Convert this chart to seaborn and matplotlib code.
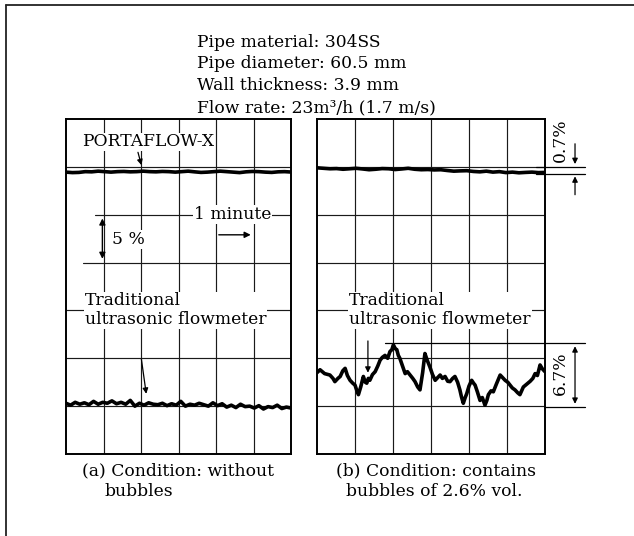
import numpy as np
import pandas as pd
import matplotlib
matplotlib.use("Agg")
import matplotlib.pyplot as plt
import seaborn as sns

sns.set_theme(style="white")
plt.rcParams['font.family'] = ['DejaVu Serif']
plt.rcParams['text.color'] = 'black'

# ---------------- data ----------------
title_lines = ["Pipe material: 304SS", "Pipe diameter: 60.5 mm",
               "Wall thickness: 3.9 mm", "Flow rate: 23m³/h (1.7 m/s)"]

# (a) without bubbles, percent of full scale, sampled evenly over 6 minutes
porta_a = [29.45, 29.40, 29.42, 29.50, 29.48, 29.55, 29.50, 29.45, 29.50, 29.52,
           29.48, 29.50, 29.55, 29.50, 29.48, 29.52, 29.50, 29.45, 29.50, 29.55,
           29.48, 29.42, 29.45, 29.50, 29.55, 29.50, 29.45, 29.40, 29.48, 29.52,
           29.50, 29.45, 29.42, 29.48, 29.50, 29.46]
trad_a = [5.3, 5.1, 5.4, 5.2, 5.35, 5.15, 5.5, 5.2, 5.4, 5.3, 5.55, 5.25, 5.4,
          5.2, 5.6, 5.0, 5.3, 5.1, 5.35, 5.2, 5.15, 5.3, 5.05, 5.25, 5.1, 5.5,
          5.0, 5.2, 5.1, 5.3, 5.15, 5.0, 5.35, 5.05, 5.25, 4.9, 5.1, 4.85, 5.2,
          4.95, 5.0, 4.8, 5.05, 4.7, 4.95, 4.85, 5.1, 4.75, 4.9, 4.8]

# (b) with bubbles
porta_b = [29.90, 29.85, 29.80, 29.82, 29.75, 29.80, 29.85, 29.78, 29.70, 29.75,
           29.82, 29.80, 29.72, 29.78, 29.85, 29.75, 29.70, 29.72, 29.68, 29.70,
           29.62, 29.55, 29.58, 29.60, 29.52, 29.48, 29.55, 29.45, 29.50, 29.40,
           29.45, 29.38, 29.42, 29.45, 29.40, 29.42]
trad_b_t = [0.0, 0.08, 0.2, 0.34, 0.42, 0.47, 0.55, 0.61, 0.68, 0.74, 0.8, 0.87,
            0.94, 1.0, 1.05, 1.09, 1.15, 1.22, 1.27, 1.31, 1.35, 1.39, 1.46, 1.53,
            1.6, 1.66, 1.72, 1.79, 1.86, 1.92, 1.97, 2.01, 2.06, 2.10, 2.14, 2.18,
            2.25, 2.32, 2.38, 2.45, 2.52, 2.58, 2.65, 2.71, 2.78, 2.84, 2.9, 2.97,
            3.04, 3.11, 3.18, 3.24, 3.3, 3.37, 3.44, 3.50, 3.57, 3.63, 3.7, 3.76,
            3.8, 3.85, 3.9, 3.94, 4.0, 4.07, 4.12, 4.16, 4.22, 4.29, 4.35, 4.42,
            4.47, 4.51, 4.58, 4.64, 4.72, 4.82, 4.88, 4.95, 5.02, 5.08, 5.14, 5.21,
            5.28, 5.34, 5.43, 5.52, 5.61, 5.68, 5.74, 5.8, 5.87, 5.93, 6.0]
trad_b = [8.5, 8.8, 8.4, 8.25, 7.9, 7.56, 7.9, 8.1, 8.7, 8.95, 8.2, 7.7,
          7.4, 7.2, 6.6, 6.2, 7.0, 8.1, 7.5, 7.4, 7.9, 7.7, 8.3, 8.6,
          9.2, 9.8, 10.1, 10.3, 10.0, 10.7, 10.9, 11.4, 11.0, 10.9, 10.3, 10.0,
          9.2, 8.4, 8.6, 8.25, 7.9, 7.56, 7.0, 6.7, 8.5, 10.5, 9.8, 9.1,
          8.3, 7.7, 8.0, 8.25, 7.9, 8.1, 7.6, 7.56, 7.9, 8.1, 7.5, 6.7,
          6.0, 5.3, 5.9, 6.3, 7.1, 7.7, 7.4, 7.2, 6.5, 5.6, 5.9, 5.1,
          5.6, 6.2, 6.6, 6.5, 7.3, 8.25, 8.0, 7.7, 7.5, 7.2, 6.9, 6.7,
          6.4, 6.2, 7.0, 7.3, 7.6, 7.9, 8.4, 8.2, 9.3, 8.9, 8.6]

minutes = [0, 1, 2, 3, 4, 5, 6]
percents = [0, 5, 10, 15, 20, 25, 30, 35]

df_pa = pd.DataFrame({"t": np.linspace(0, 6, len(porta_a)), "v": porta_a})
df_ta = pd.DataFrame({"t": np.linspace(0, 6, len(trad_a)), "v": trad_a})
df_pb = pd.DataFrame({"t": np.linspace(0, 6, len(porta_b)), "v": porta_b})
df_tb = pd.DataFrame({"t": trad_b_t, "v": trad_b})

# ---------------- figure ----------------
W, H = 634, 536
fig = plt.figure(figsize=(W / 100, H / 100), dpi=100)
fig.patch.set_facecolor("white")

def fx(px):
    return px / W

def fy(py):
    return 1 - py / H

ax_a = fig.add_axes([fx(66), fy(454), fx(291) - fx(66), fy(119) - fy(454)])
ax_b = fig.add_axes([fx(317), fy(454), fx(545) - fx(317), fy(119) - fy(454)])

GRID = "#1a1a1a"
for ax in (ax_a, ax_b):
    ax.set_xlim(0, 6)
    ax.set_ylim(0, 35)
    ax.set_xticks([])
    ax.set_yticks([])
    ax.set_facecolor("none")
    for m in minutes[1:-1]:
        ax.axvline(m, color=GRID, lw=0.85, zorder=1)
    for s in ax.spines.values():
        s.set_color("black")
        s.set_linewidth(1.4)
        s.set_visible(True)

# horizontal grid: panel (a) has the 20 % and 25 % lines only partly drawn
for p in percents[1:-1]:
    if p in (20, 25):
        ax_a.axhline(p, xmin=0.78 / 6 if p == 25 else 0.45 / 6, color=GRID, lw=0.85, zorder=1)
    else:
        ax_a.axhline(p, color=GRID, lw=0.85, zorder=1)
    ax_b.axhline(p, color=GRID, lw=0.85, zorder=1)

TRACE = dict(color="black", linewidth=2.6, zorder=5)
sns.lineplot(data=df_pa, x="t", y="v", ax=ax_a, **TRACE)
sns.lineplot(data=df_ta, x="t", y="v", ax=ax_a, **TRACE)
sns.lineplot(data=df_pb, x="t", y="v", ax=ax_b, **TRACE)
sns.lineplot(data=df_tb, x="t", y="v", ax=ax_b, **TRACE)
for ax in (ax_a, ax_b):
    ax.set_xlabel("")
    ax.set_ylabel("")

FS = 12.3
bb = dict(boxstyle="square,pad=0.05", fc="white", ec="none")

# title block
for i, line in enumerate(title_lines):
    fig.text(fx(197), fy(42 + 22 * i), line, fontsize=FS, ha="left", va="center")

# panel (a) annotations
ax_a.text(0.42, 32.6, "PORTAFLOW-X", fontsize=FS, ha="left", va="center", bbox=bb, zorder=6)
ax_a.annotate("", xy=(2.03, 29.9), xytext=(1.9, 31.8),
              arrowprops=dict(arrowstyle="-|>", color="black", lw=0.9, mutation_scale=8), zorder=6)
ax_a.text(4.45, 25.0, "1 minute", fontsize=FS, ha="center", va="center", bbox=bb, zorder=6)
ax_a.annotate("", xy=(5.0, 22.9), xytext=(4.0, 22.9),
              arrowprops=dict(arrowstyle="-|>", color="black", lw=1.0, mutation_scale=9), zorder=6)
ax_a.annotate("", xy=(0.97, 20.1), xytext=(0.97, 24.9),
              arrowprops=dict(arrowstyle="<|-|>", color="black", lw=1.0, mutation_scale=9), zorder=6)
ax_a.text(1.22, 22.4, "5 %", fontsize=FS, ha="left", va="center", bbox=bb, zorder=6)
ax_a.text(0.5, 15.0, "Traditional\nultrasonic flowmeter", fontsize=FS, ha="left",
          va="center", linespacing=1.15, bbox=bb, zorder=6)
ax_a.annotate("", xy=(2.15, 6.0), xytext=(2.0, 10.2),
              arrowprops=dict(arrowstyle="-|>", color="black", lw=0.9, mutation_scale=8), zorder=6)

# panel (b) annotations
ax_b.text(0.85, 15.0, "Traditional\nultrasonic flowmeter", fontsize=FS, ha="left",
          va="center", linespacing=1.15, bbox=bb, zorder=6)
ax_b.annotate("", xy=(1.34, 8.2), xytext=(1.34, 12.1),
              arrowprops=dict(arrowstyle="-|>", color="black", lw=0.9, mutation_scale=8), zorder=6)

# 0.7 % marker
ax_b.plot([5.75, 7.05], [30.0, 30.0], color="black", lw=0.9, clip_on=False, zorder=6)
ax_b.plot([5.75, 7.05], [29.3, 29.3], color="black", lw=0.9, clip_on=False, zorder=6)
ax_b.annotate("", xy=(6.79, 30.0), xytext=(6.79, 32.7),
              arrowprops=dict(arrowstyle="-|>", color="black", lw=0.9, mutation_scale=8),
              annotation_clip=False)
ax_b.annotate("", xy=(6.79, 29.3), xytext=(6.79, 26.8),
              arrowprops=dict(arrowstyle="-|>", color="black", lw=0.9, mutation_scale=8),
              annotation_clip=False)
ax_b.text(6.4, 32.8, "0.7%", fontsize=FS, rotation=90, ha="center", va="center")

# 6.7 % marker
ax_b.plot([1.8, 7.05], [11.6, 11.6], color="black", lw=0.9, clip_on=False, zorder=6)
ax_b.plot([6.0, 7.05], [4.9, 4.9], color="black", lw=0.9, clip_on=False, zorder=6)
ax_b.annotate("", xy=(6.79, 4.95), xytext=(6.79, 11.55),
              arrowprops=dict(arrowstyle="<|-|>", color="black", lw=0.9, mutation_scale=8),
              annotation_clip=False)
ax_b.text(6.4, 8.4, "6.7%", fontsize=FS, rotation=90, ha="center", va="center")

# captions
fig.text(fx(82), fy(471), "(a) Condition: without", fontsize=FS, ha="left", va="center")
fig.text(fx(104), fy(492), "bubbles", fontsize=FS, ha="left", va="center")
fig.text(fx(336), fy(471), "(b) Condition: contains", fontsize=FS, ha="left", va="center")
fig.text(fx(346), fy(492), "bubbles of 2.6% vol.", fontsize=FS, ha="left", va="center")

# outer frame (left and top edges)
fig.add_artist(plt.Line2D([fx(6), fx(6)], [fy(5), 0], color="#222222", lw=1.3))
fig.add_artist(plt.Line2D([fx(6), 1], [fy(5), fy(5)], color="#222222", lw=1.3))

fig.savefig("out.png", dpi=100, facecolor="white")
